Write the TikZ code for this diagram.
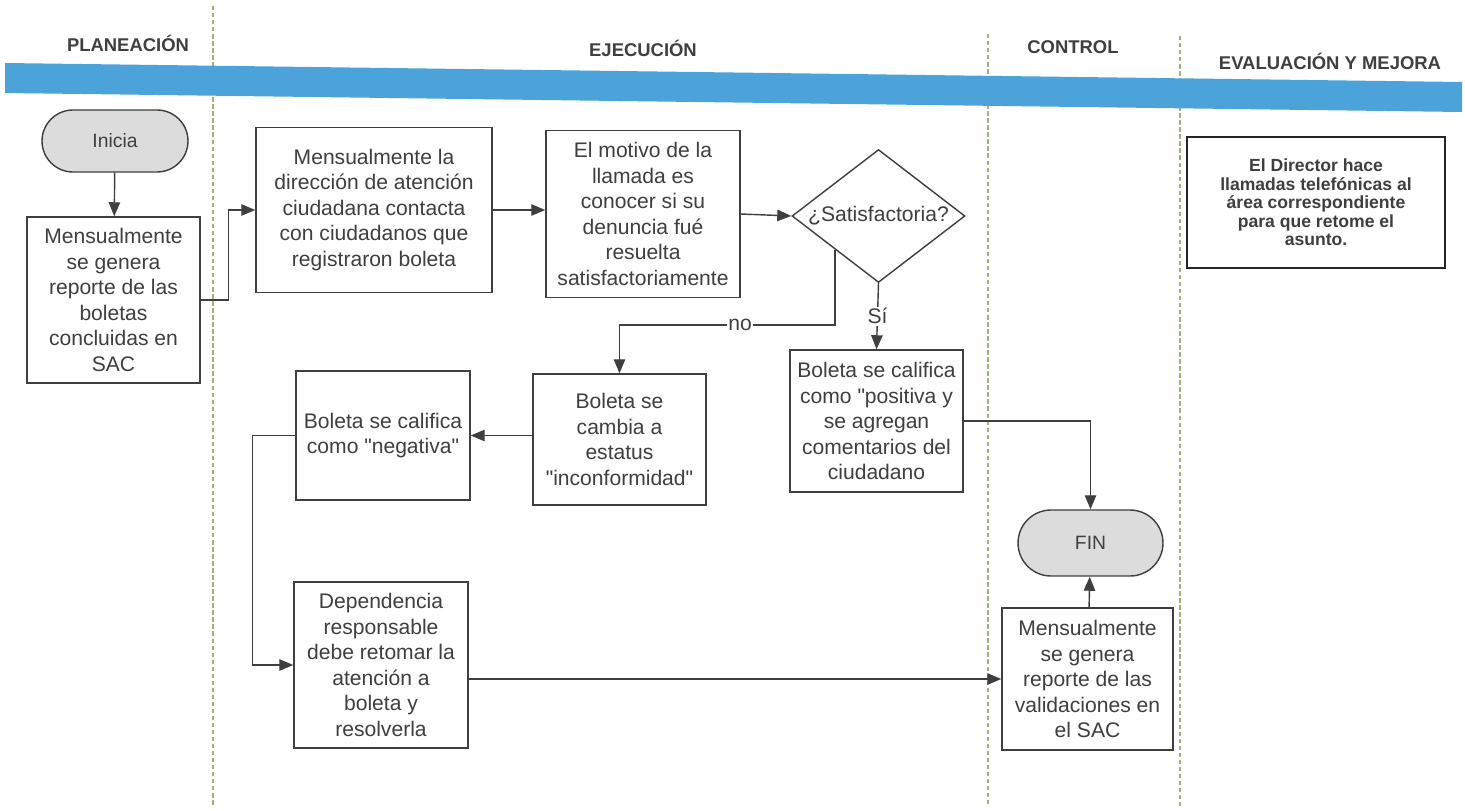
\documentclass[tikz,border=0pt]{standalone}
\usepackage{fontspec}
\setmainfont{Liberation Sans}[Ligatures=TeXOff]
\usetikzlibrary{shapes.geometric,arrows.meta}
\definecolor{banda}{HTML}{4BA3DA}
\definecolor{tinta}{HTML}{3F3F3F}
\definecolor{carril}{HTML}{9FB27A}
\definecolor{terminal}{HTML}{DCDCDC}
\begin{document}
\begin{tikzpicture}[x=0.02cm,y=-0.02cm,
    caja/.style={draw=tinta, line width=0.8pt, align=center, text=tinta,
      font=\fontsize{12}{14.5}\selectfont, inner sep=2pt},
    terminador/.style={caja, fill=terminal, font=\fontsize{11}{13}\selectfont},
    flecha/.style={draw=tinta, line width=0.8pt, -{Triangle[length=8pt,width=6.5pt]}},
    etiqueta/.style={fill=white, inner sep=1pt, text=tinta, font=\fontsize{12}{14}\selectfont},
    titulo/.style={font=\bfseries\fontsize{10.5}{12}\selectfont, text=tinta},
    carrilsep/.style={draw=carril, line width=0.7pt, dash pattern=on 2.5pt off 1.5pt}]
    \useasboundingbox (0,0) rectangle (1465,811);
    \fill[white] (0,0) rectangle (1465,811);
    % carriles
    \draw[carrilsep] (213,6) -- (213,806);
    \draw[carrilsep] (988,34) -- (988,806);
    \draw[carrilsep] (1180,36) -- (1180,806);
    \fill[banda] (5,63) -- (1462,82) -- (1462,112) -- (5,93) -- cycle;
    \node[titulo] (tplan) at (128,43) {PLANEACIÓN};
    \node[titulo] (tejec) at (643,48) {EJECUCIÓN};
    \node[titulo] (tcont) at (1073,47) {CONTROL};
    \node[titulo] (teval) at (1330,61) {EVALUACIÓN Y MEJORA};
    % nodos
    \node[terminador, rounded corners=0.62cm, minimum width=2.92cm, minimum height=1.24cm] (inicia) at (115,141) {Inicia};
    \node[caja, minimum width=3.46cm, minimum height=3.32cm] (reporte) at (113.5,300)
      {Mensualmente\\se genera\\reporte de las\\boletas\\concluidas en\\SAC};
    \node[caja, minimum width=4.72cm, minimum height=3.3cm] (contacto) at (374,210)
      {Mensualmente la\\dirección de atención\\ciudadana contacta\\con ciudadanos que\\registraron boleta};
    \node[caja, minimum width=3.88cm, minimum height=3.34cm] (motivo) at (643,214)
      {El motivo de la\\llamada es\\conocer si su\\denuncia fué\\resuelta\\satisfactoriamente};
    \node[diamond, draw=tinta, line width=0.8pt, inner sep=0pt, minimum width=3.46cm, minimum height=2.66cm,
      label={[text=tinta, font=\fontsize{12}{14}\selectfont]center:¿Satisfactoria?}] (satisf) at (878.5,216) {};
    \node[caja, minimum width=3.46cm, minimum height=2.62cm] (inconf) at (619.5,439.5)
      {Boleta se\\cambia a\\estatus\\"inconformidad"};
    \node[caja, minimum width=3.48cm, minimum height=2.58cm] (negativa) at (383,435.5)
      {Boleta se califica\\como "negativa"};
    \node[caja, minimum width=3.46cm, minimum height=2.84cm] (positiva) at (876.5,421)
      {Boleta se califica\\como "positiva y\\se agregan\\comentarios del\\ciudadano};
    \node[caja, minimum width=3.48cm, minimum height=3.32cm] (dependencia) at (381,665)
      {Dependencia\\responsable\\debe retomar la\\atención a\\boleta y\\resolverla};
    \node[terminador, rounded corners=0.66cm, minimum width=2.9cm, minimum height=1.32cm] (fin) at (1090.5,543) {FIN};
    \node[caja, minimum width=3.42cm, minimum height=2.84cm] (validacion) at (1087.5,679)
      {Mensualmente\\se genera\\reporte de las\\validaciones en\\el SAC};
    \node[caja, draw=black!85, line width=1.6pt, minimum width=5.16cm, minimum height=2.62cm,
      font=\bfseries\fontsize{10}{10.5}\selectfont] (director) at (1316,202.5)
      {El Director hace\\llamadas telefónicas al\\área correspondiente\\para que retome el\\asunto.};
    % conectores
    \draw[flecha] (inicia) -- (reporte);
    \draw[flecha] (reporte.east) -- ++(28,0) |- (contacto.west);
    \draw[flecha] (contacto.east) -- (contacto.east -| motivo.west);
    \draw[flecha] (motivo.east) -- (satisf.west);
    \draw[flecha] (satisf.south west) |- (740,325) node[etiqueta] (nolbl) {no} -| (inconf.north);
    \draw[flecha] (satisf.south) -- node[etiqueta] (silbl) {Sí} (positiva.north);
    \draw[flecha] (negativa.east -| inconf.west) -- (negativa.east);
    \draw[flecha] (negativa.west) -- ++(-43,0) |- (dependencia.west);
    \draw[flecha] (dependencia.east |- validacion.west) -- (validacion.west);
    \draw[flecha] (positiva.east) -| (fin.north);
    \draw[flecha] (validacion) -- (fin);
\end{tikzpicture}
\end{document}
